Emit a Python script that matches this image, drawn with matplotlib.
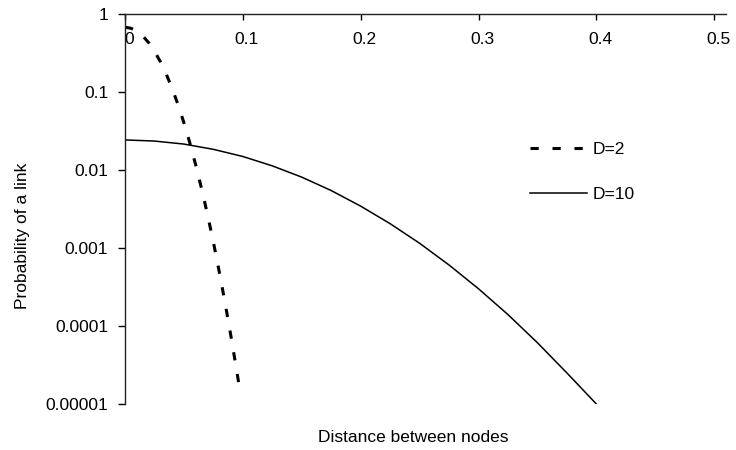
import matplotlib
matplotlib.use("Agg")
import matplotlib.pyplot as plt
import matplotlib.transforms as mtransforms

# D=2 curve (dashed)
x_d2 = [0.0, 0.005, 0.01, 0.015, 0.02, 0.025, 0.03, 0.035, 0.04, 0.045, 0.05,
        0.055, 0.06, 0.065, 0.07, 0.075, 0.08, 0.085, 0.09, 0.095, 0.0975]
p_d2 = [0.676, 0.657, 0.604, 0.525, 0.43, 0.334, 0.245, 0.17, 0.111, 0.0689, 0.0403,
        0.0223, 0.0116, 0.00575, 0.00269, 0.00119, 0.000494, 0.000195, 7.26e-5,
        2.56e-5, 1.49e-5]

# D=10 curve (solid)
x_d10 = [0.0, 0.025, 0.05, 0.075, 0.1, 0.125, 0.15, 0.175, 0.2, 0.225,
         0.25, 0.275, 0.3, 0.325, 0.35, 0.375, 0.4]
p_d10 = [0.0243, 0.0235, 0.0215, 0.0184, 0.0149, 0.0113, 0.0081, 0.00545, 0.00344,
         0.00205, 0.00115, 0.000605, 0.0003, 0.00014, 6.1e-5, 2.5e-5, 1e-5]

x_ticks = [0, 0.1, 0.2, 0.3, 0.4, 0.5]
x_labels = ["0", "0.1", "0.2", "0.3", "0.4", "0.5"]
y_ticks = [1e-5, 1e-4, 1e-3, 1e-2, 1e-1, 1]
y_labels = ["0.00001", "0.0001", "0.001", "0.01", "0.1", "1"]

plt.rcParams["font.family"] = ["Liberation Sans", "DejaVu Sans"]
plt.rcParams["font.size"] = 12.5

fig = plt.figure(figsize=(7.36, 4.5), dpi=100)
ax = fig.add_axes([125 / 736, 1 - 404 / 450, 601 / 736, 390 / 450])

ax.plot(x_d2, p_d2, color="black", lw=2.2, dashes=(2.7, 4.5), label="D=2")
ax.plot(x_d10, p_d10, color="black", lw=1.1, label="D=10")

ax.set_yscale("log")
ax.set_xlim(0, 0.51)
ax.set_ylim(1e-5, 1)
ax.minorticks_off()

# x axis drawn along the top (at p=1), labels below the line
ax.spines["top"].set_visible(False)
ax.spines["right"].set_visible(False)
ax.spines["bottom"].set_position(("axes", 1.0))
ax.set_xticks(x_ticks, x_labels)
ax.set_yticks(y_ticks, y_labels)
ax.tick_params(axis="x", direction="out", length=4, width=1, pad=9)
ax.tick_params(axis="y", direction="out", length=5, width=1, pad=7)
for sp in ("left", "bottom"):
    ax.spines[sp].set_linewidth(1)
    ax.spines[sp].set_color("#222222")

shift = mtransforms.ScaledTranslation(4 / 100, 0, fig.dpi_scale_trans)
for lab in ax.get_xticklabels():
    lab.set_transform(lab.get_transform() + shift)

fig.text(23 / 736, 1 - 236 / 450, "Probability of a link", rotation=90,
         ha="center", va="center")
fig.text(413 / 736, 1 - 437 / 450, "Distance between nodes", ha="center", va="center")

ax.legend(loc="center left", bbox_to_anchor=(521 / 736, 1 - 172 / 450),
          bbox_transform=fig.transFigure, frameon=False,
          handlelength=3.3, handletextpad=0.3, labelspacing=1.75, borderpad=0)

fig.savefig("out.png", dpi=100)
